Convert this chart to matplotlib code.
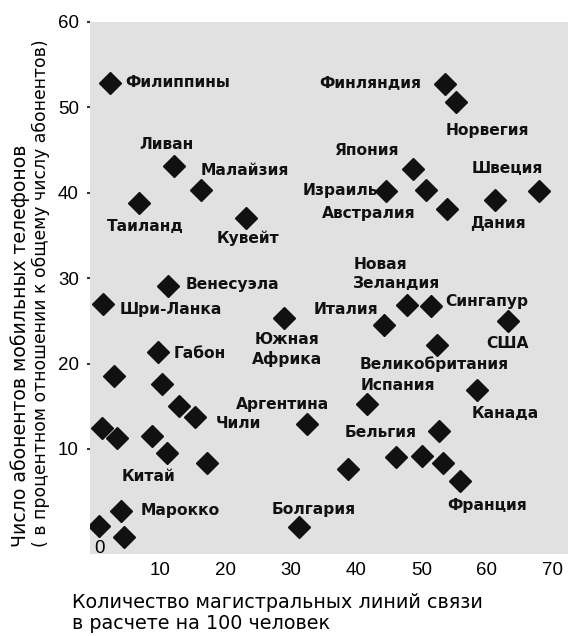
import matplotlib
matplotlib.use("Agg")
import matplotlib.pyplot as plt

# Main lines per 100 people vs. mobile subscribers share (%)
countries = [
    "Филиппины", "Ливан", "Малайзия", "Таиланд", "Кувейт", "Венесуэла",
    "Финляндия", "Норвегия", "Япония", "Израиль", "Австралия", "", "Дания", "Швеция",
    "Шри-Ланка", "Южная\nАфрика", "Габон", "", "", "", "Чили", "", "", "", "Китай", "",
    "Аргентина", "Марокко", "", "", "Болгария",
    "Новая\nЗеландия", "Сингапур", "Италия", "США", "Великобритания", "Канада",
    "Испания", "", "Бельгия", "", "", "Франция", "",
]
lines_per_100 = [
    2.3, 12.2, 16.3, 6.8, 23.2, 11.2,
    53.6, 55.3, 48.7, 44.6, 50.7, 53.9, 61.2, 68.0,
    1.3, 29.0, 9.7, 3.0, 10.3, 12.9, 15.4, 1.1, 3.4, 8.8, 11.1, 17.2,
    32.5, 4.1, 0.7, 4.5, 31.3,
    47.8, 51.4, 44.3, 63.2, 52.3, 58.5,
    41.6, 52.7, 46.1, 50.1, 53.3, 55.9, 38.8,
]
mobile_share = [
    52.9, 43.1, 40.3, 38.8, 37.1, 29.1,
    52.7, 50.6, 42.8, 40.2, 40.3, 38.1, 39.2, 40.2,
    27.0, 25.3, 21.3, 18.6, 17.6, 15.0, 13.7, 12.4, 11.3, 11.5, 9.5, 8.3,
    12.9, 2.7, 1.0, -0.3, 0.9,
    26.9, 26.7, 24.5, 25.0, 22.2, 16.9,
    15.3, 12.1, 9.1, 9.2, 8.4, 6.3, 7.6,
]
ylabel_lines = ["Число абонентов мобильных телефонов",
                "( в процентном отношении к общему числу абонентов)"]
xlabel = "Количество магистральных линий связи\nв расчете на 100 человек"

# label placement: offset in pixels from the marker, horizontal alignment
label_place = {
    "Филиппины": (16, 0, "left"),
    "Ливан": (-8, 22, "center"),
    "Малайзия": (-1, 20, "left"),
    "Таиланд": (-32, -23, "left"),
    "Кувейт": (2, -21, "center"),
    "Венесуэла": (18, 1, "left"),
    "Финляндия": (-24, 1, "right"),
    "Норвегия": (-11, -28, "left"),
    "Япония": (-47, 18, "center"),
    "Израиль": (-8, 1, "right"),
    "Австралия": (-57, -23, "center"),
    "Дания": (-25, -24, "left"),
    "Швеция": (-68, 23, "left"),
    "Шри-Ланка": (17, -6, "left"),
    "Южная\nАфрика": (3, -31, "center"),
    "Габон": (16, -1, "left"),
    "Чили": (20, -6, "left"),
    "Китай": (-46, -23, "left"),
    "Аргентина": (-71, 20, "left"),
    "Марокко": (19, 1, "left"),
    "Болгария": (-28, 17, "left"),
    "Новая\nЗеландия": (-54, 31, "left"),
    "Сингапур": (15, 5, "left"),
    "Италия": (-71, 16, "left"),
    "США": (0, -23, "center"),
    "Великобритания": (-77, -19, "left"),
    "Канада": (-5, -23, "left"),
    "Испания": (-6, 18, "left"),
    "Бельгия": (-51, 24, "left"),
    "Франция": (-13, -25, "left"),
}

plt.rcParams["font.family"] = ["DejaVu Sans"]

fig = plt.figure(figsize=(5.73, 6.36), dpi=100)
ax = fig.add_axes([90 / 573, 1 - 554 / 636, 478 / 573, 532 / 636])
ax.set_facecolor("#e1e1e1")
for s in ax.spines.values():
    s.set_visible(False)

ax.plot(lines_per_100, mobile_share, linestyle="none", marker="D",
        markersize=11, color="#111111")

for name, x, y in zip(countries, lines_per_100, mobile_share):
    if not name:
        continue
    dx, dy, ha = label_place[name]
    ax.annotate(name, (x, y), xytext=(dx, dy), textcoords="offset pixels",
                ha=ha, va="center", fontsize=11.2, fontweight="bold",
                color="#111111", linespacing=1.35)

ax.set_xlim(-0.7, 72.4)
ax.set_ylim(-2.3, 59.5)
ax.set_xticks([10, 20, 30, 40, 50, 60, 70])
ax.set_yticks([10, 20, 30, 40, 50, 60])
ax.tick_params(axis="x", length=0, pad=6, labelsize=13.5)
ax.tick_params(axis="y", length=2, width=1.5, pad=6, labelsize=13.5, color="#333333")
for lab in ax.get_xticklabels() + ax.get_yticklabels():
    lab.set_family("Liberation Sans")
ax.annotate("0", (0, 0), xytext=(5, -14), textcoords="offset pixels",
            ha="center", va="center", fontsize=13.5, family="Liberation Sans")

fig.text(20 / 573, 1 - 547 / 636, ylabel_lines[0], rotation=90,
         ha="center", va="bottom", fontsize=13.6)
fig.text(41 / 573, 1 - 547 / 636, ylabel_lines[1], rotation=90,
         ha="center", va="bottom", fontsize=12.4)
fig.text(72 / 573, 1 - 613 / 636, xlabel,
         ha="left", va="center", fontsize=13.8, linespacing=1.12)

fig.savefig("out.png", dpi=100)
